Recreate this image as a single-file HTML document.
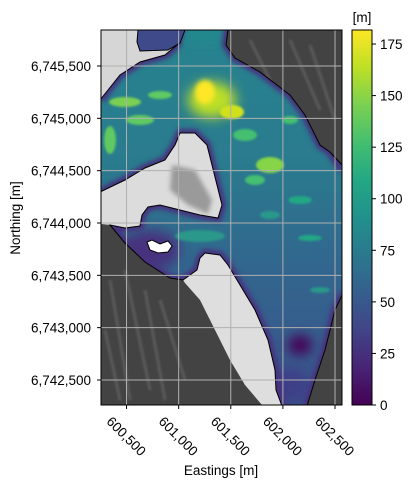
<!DOCTYPE html>
<html><head><meta charset="utf-8"><style>
body{margin:0;background:#fff;}
svg{display:block;font-family:"Liberation Sans",sans-serif;}
</style></head><body>
<svg id="chart" width="415" height="490" viewBox="0 0 415 490">
<defs>
<clipPath id="plotclip"><rect x="101" y="30" width="241" height="375"/></clipPath>
<clipPath id="glclip"><polygon id="glpoly2" points=""/></clipPath>
<filter id="blur6" x="-100%" y="-100%" width="300%" height="300%"><feGaussianBlur stdDeviation="6"/></filter>
<filter id="blur3" x="-100%" y="-100%" width="300%" height="300%"><feGaussianBlur stdDeviation="2.5"/></filter>
<filter id="blur1" x="-100%" y="-100%" width="300%" height="300%"><feGaussianBlur stdDeviation="1"/></filter>
<linearGradient id="glbase" x1="0" y1="0" x2="0" y2="1">
<stop offset="0" stop-color="#26838e"/><stop offset="0.35" stop-color="#2a7b8e"/>
<stop offset="0.6" stop-color="#31688e"/><stop offset="1" stop-color="#3b528b"/></linearGradient>
<linearGradient id="viridis" x1="0" y1="1" x2="0" y2="0">
<stop offset="0" stop-color="#440154"/><stop offset="0.1" stop-color="#482475"/>
<stop offset="0.2" stop-color="#414487"/><stop offset="0.3" stop-color="#355f8d"/>
<stop offset="0.4" stop-color="#2a788e"/><stop offset="0.5" stop-color="#21918c"/>
<stop offset="0.6" stop-color="#22a884"/><stop offset="0.7" stop-color="#44bf70"/>
<stop offset="0.8" stop-color="#7ad151"/><stop offset="0.9" stop-color="#bddf26"/>
<stop offset="1" stop-color="#fde725"/></linearGradient>
</defs>
<g clip-path="url(#plotclip)">
<rect x="101" y="30" width="241" height="375" fill="#434343"/>
<g fill="none" stroke="#5a5a5a" stroke-width="3" filter="url(#blur1)">
<path d="M110,280 L130,400 M125,270 L150,390 M145,290 L165,400 M105,330 L120,400 M160,300 L185,380"/>
<path d="M250,40 L275,90 M290,40 L320,110 M310,45 L335,120 M330,180 L340,260"/>
</g>
<polygon fill="#d6d6d6" points="101,30 180,30 177,45 165,55 140,62 120,75 108,90 101,100"/>
<polygon fill="#dcdcdc" points="101,192 125,180 145,168 165,160 175,145 180,133 195,133 207,145 212,165 217,185 222,205 218,218 200,215 180,210 160,205 148,207 142,215 140,226 125,228 110,225 101,224"/>
<polygon fill="#9a9a9a" filter="url(#blur3)" points="172,165 195,170 212,200 208,214 188,205 170,190"/>
<polygon fill="#dedede" points="183,280 197,270 200,258 205,253 220,255 228,265 240,285 255,310 268,340 275,370 276,390 282,405 262,405 245,385 230,360 215,330 200,300 185,283"/>
<polygon id="glpoly" fill="url(#glbase)" points=""/>
<g id="glpatches" clip-path="url(#glclip)">
<ellipse cx="150" cy="250" rx="30" ry="20" fill="#46307e" filter="url(#blur6)"/>
<ellipse cx="205" cy="35" rx="22" ry="8" fill="#23898e" filter="url(#blur6)"/>
<ellipse cx="300" cy="345" rx="12" ry="10" fill="#440154" filter="url(#blur6)"/>
<ellipse cx="290" cy="385" rx="20" ry="18" fill="#3e3f88" filter="url(#blur6)"/>
<ellipse cx="212" cy="100" rx="24" ry="18" fill="#bddf26" filter="url(#blur6)"/>
<ellipse cx="205" cy="92" rx="10" ry="12" fill="#fde725" filter="url(#blur3)"/>
<ellipse cx="232" cy="112" rx="12" ry="7" fill="#d0e11c" filter="url(#blur1)"/>
<ellipse cx="125" cy="102" rx="16" ry="5" fill="#7ad151" filter="url(#blur1)"/>
<ellipse cx="140" cy="120" rx="14" ry="5" fill="#5ec962" filter="url(#blur1)"/>
<ellipse cx="245" cy="135" rx="12" ry="6" fill="#44bf70" filter="url(#blur1)"/>
<ellipse cx="270" cy="165" rx="14" ry="8" fill="#86d549" filter="url(#blur1)"/>
<ellipse cx="110" cy="140" rx="6" ry="14" fill="#5ec962" filter="url(#blur1)"/>
<ellipse cx="160" cy="95" rx="12" ry="4" fill="#5ec962" filter="url(#blur1)"/>
<ellipse cx="290" cy="120" rx="8" ry="4" fill="#44bf70" filter="url(#blur1)"/>
<ellipse cx="300" cy="200" rx="12" ry="4" fill="#22a884" filter="url(#blur1)"/>
<ellipse cx="200" cy="236" rx="25" ry="6" fill="#2a988a" filter="url(#blur1)"/>
<ellipse cx="310" cy="238" rx="12" ry="3" fill="#22a884" filter="url(#blur1)"/>
<ellipse cx="270" cy="215" rx="10" ry="4" fill="#2a988a" filter="url(#blur1)"/>
<ellipse cx="320" cy="290" rx="10" ry="3" fill="#2a988a" filter="url(#blur1)"/>
<ellipse cx="255" cy="180" rx="10" ry="5" fill="#44bf70" filter="url(#blur1)"/>
</g>
<polygon id="glout" fill="none" stroke="#000" stroke-width="1" points=""/>
<polygon fill="#3e4a89" stroke="#000" stroke-width="1" points="138,30 185,30 180,43 168,50 140,51 137,42"/>
<polygon fill="#fff" stroke="#000" stroke-width="1" points="147,242 152,240 160,244 168,241 172,246 168,252 158,253 150,250"/>
<g id="grid"></g>
</g>
<rect x="101" y="30" width="241" height="375" fill="none" stroke="#000" stroke-width="1"/>
<g id="axes"></g>
<rect x="352" y="30" width="20" height="375" fill="url(#viridis)" stroke="#000" stroke-width="1"/>
<g id="cbticks"></g>
<text x="362" y="22" font-size="13.5" text-anchor="middle">[m]</text>
<text x="221" y="475" font-size="13.5" text-anchor="middle">Eastings [m]</text>
<text x="0" y="0" font-size="13.5" text-anchor="middle" transform="translate(20,218) rotate(-90)">Northing [m]</text>
</svg>
<script>
const xTicks=[600500,601000,601500,602000,602500];
const xTickLabels=["600,500","601,000","601,500","602,000","602,500"];
const yTicks=[6742500,6743000,6743500,6744000,6744500,6745000,6745500];
const yTickLabels=["6,742,500","6,743,000","6,743,500","6,744,000","6,744,500","6,745,000","6,745,500"];
const cbTicks=[0,25,50,75,100,125,150,175];
const xDomain=[600255,602567], yDomain=[6742261,6745844], cDomain=[0,181.8];
const X=v=>101+(v-xDomain[0])/(xDomain[1]-xDomain[0])*241;
const Y=v=>405-(v-yDomain[0])/(yDomain[1]-yDomain[0])*375;
const C=v=>405-(v-cDomain[0])/(cDomain[1]-cDomain[0])*375;
const NS="http://www.w3.org/2000/svg";
function mk(t,a,p){const e=document.createElementNS(NS,t);for(const k in a)e.setAttribute(k,a[k]);p.appendChild(e);return e;}
const gl="180,30 228,30 226,45 235,58 260,72 290,95 305,115 320,145 330,152 342,165 343,293 335,310 325,350 315,380 307,406 282,406 276,390 275,370 268,340 255,310 240,285 228,265 220,255 205,253 200,258 197,270 183,280 170,278 145,262 125,243 110,225 125,228 140,226 142,215 148,207 160,205 180,210 200,215 218,218 222,205 217,185 212,165 207,145 195,133 180,133 175,145 165,160 145,168 125,180 100,192 100,100 108,90 120,75 140,62 165,55 177,45";
document.getElementById('glpoly').setAttribute('points',gl);
document.getElementById('glpoly2').setAttribute('points',gl);
document.getElementById('glout').setAttribute('points',gl);
const gp=document.getElementById('glpatches');
["342,170 330,152 320,145 305,115 290,95 260,72 235,58 226,45 228,28",
 "101,100 108,90 120,75 140,62 165,55 177,45 180,28",
 "101,192 125,180 145,168 165,160 175,145 180,133 195,133 207,145 212,165 217,185 222,205 218,218 200,215 180,210 160,205 148,207 142,215 140,226 125,228 110,225 125,243 145,262 170,278 183,280 197,270 200,258 205,253 220,255 228,265 240,285 255,310 268,340 275,370 282,406",
 "343,293 335,310 325,350 315,380 307,406"].forEach(p=>{
 mk('polyline',{points:p,fill:"none",stroke:"#46307e","stroke-width":8,filter:"url(#blur3)"},gp);});
const grid=document.getElementById('grid'), axes=document.getElementById('axes'), cb=document.getElementById('cbticks');
xTicks.forEach((v,i)=>{const x=X(v);
 const l=mk('line',{x1:x,y1:30,x2:x,y2:405,stroke:"#b0b0b0","stroke-width":1},grid);
 
 const t=mk('line',{x1:x,y1:405,x2:x,y2:409,stroke:"#000"},axes);
 
 const tx=mk('text',{"font-size":13.5,"text-anchor":"middle",y:5,transform:`translate(${x},${436}) rotate(45)`},axes);
 tx.textContent=xTickLabels[i];
 });
yTicks.forEach((v,i)=>{const y=Y(v);
 const l=mk('line',{x1:101,y1:y,x2:342,y2:y,stroke:"#b0b0b0","stroke-width":1},grid);
 
 const t=mk('line',{x1:97,y1:y,x2:101,y2:y,stroke:"#000"},axes);
 
 const tx=mk('text',{x:91,y:y+5,"font-size":13.5,"text-anchor":"end"},axes);
 tx.textContent=yTickLabels[i];
 });
cbTicks.forEach(v=>{const y=C(v);
 const t=mk('line',{x1:372,y1:y,x2:376,y2:y,stroke:"#000"},cb);
 
 const tx=mk('text',{x:380,y:y+5,"font-size":13.5},cb);
 tx.textContent=String(v);
 });
</script>
</body></html>
